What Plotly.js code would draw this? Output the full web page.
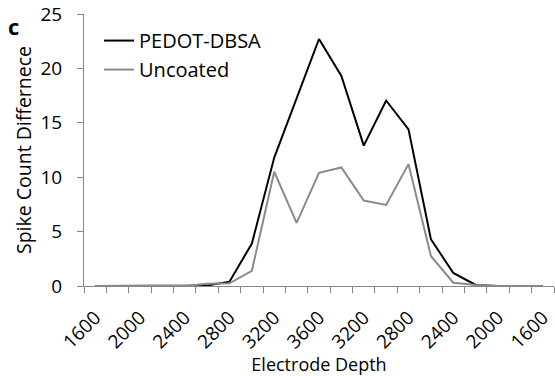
<!DOCTYPE html>
<html>
<head>
<meta charset="utf-8">
<script src="https://cdn.plot.ly/plotly-3.0.1.min.js"></script>
<style>html,body{margin:0;padding:0;background:#fff;}#chart{width:555px;height:376px;}</style>
</head>
<body>
<div id="chart"></div>
<script>
// Electrode depth for each recording step (down then back up)
const depths = [1600,1800,2000,2200,2400,2600,2800,3000,3200,3400,3600,3400,3200,3000,2800,2600,2400,2200,2000,1800,1600];
const pedotDbsa = [0,0,0,0,0,0.05,0.4,3.9,11.8,17.2,22.7,19.3,12.9,17.05,14.4,4.3,1.2,0.1,0,0,0];
const uncoated  = [0,0,0,0,0,0.2,0.25,1.4,10.5,5.8,10.4,10.9,7.85,7.45,11.2,2.76,0.3,0.1,0,0,0];
const seriesNames = ["PEDOT-DBSA", "Uncoated"];

const idx = depths.map((d, i) => i);
const labelIdx = idx.filter(i => i % 2 === 0);
const labelText = labelIdx.map(i => String(depths[i]));

const axisGray = '#868686';
const fontFam = '"Open Sans", "Noto Sans", sans-serif';

const traces = [
  {x: idx, y: pedotDbsa, name: seriesNames[0], type: 'scatter', mode: 'lines',
   line: {color: '#000000', width: 2}, legendgroup: 'a'},
  {x: idx, y: uncoated, name: seriesNames[1], type: 'scatter', mode: 'lines',
   line: {color: '#8a8a8a', width: 2}, legendgroup: 'b'}
];

const layout = {
  width: 555, height: 376,
  margin: {l: 84, r: 1, t: 14, b: 90},
  paper_bgcolor: '#fff', plot_bgcolor: '#fff',
  font: {family: fontFam, color: '#000', size: 18},
  showlegend: true,
  legend: {x: 0.032, y: 0.974, xanchor: 'left', yanchor: 'top', bgcolor: 'rgba(0,0,0,0)',
           font: {size: 20, family: fontFam}, tracegroupgap: 0, itemwidth: 30,
           traceorder: 'grouped'},
  xaxis: {
    range: [-0.5, idx.length - 0.5], showgrid: false, zeroline: false,
    showline: true, linecolor: axisGray, linewidth: 1,
    tickmode: 'array', tickvals: labelIdx, ticktext: labelText, ticks: '',
    tickangle: -45, tickfont: {size: 19}, ticklabelstandoff: 12,
    minor: {tick0: -0.5, dtick: 1, ticks: 'outside', ticklen: 6, tickcolor: axisGray, showgrid: false},
    title: {text: 'Electrode Depth', font: {size: 18}, standoff: 0}
  },
  yaxis: {
    range: [0, 25], showgrid: false, zeroline: false,
    showline: true, linecolor: axisGray, linewidth: 1,
    tickmode: 'linear', tick0: 0, dtick: 5, ticks: 'outside', ticklen: 6, tickcolor: axisGray,
    tickfont: {size: 19}, ticklabelstandoff: 11,
    title: {text: 'Spike Count Differnece', font: {size: 19.5}, standoff: 3}
  },
  annotations: [
    {text: '<b>c</b>', xref: 'paper', yref: 'paper', x: -0.167, y: 0.955, xanchor: 'left', yanchor: 'middle',
     showarrow: false, font: {size: 22, family: fontFam}}
  ]
};

Plotly.newPlot('chart', traces, layout, {displayModeBar: false, staticPlot: true});
</script>
</body>
</html>
